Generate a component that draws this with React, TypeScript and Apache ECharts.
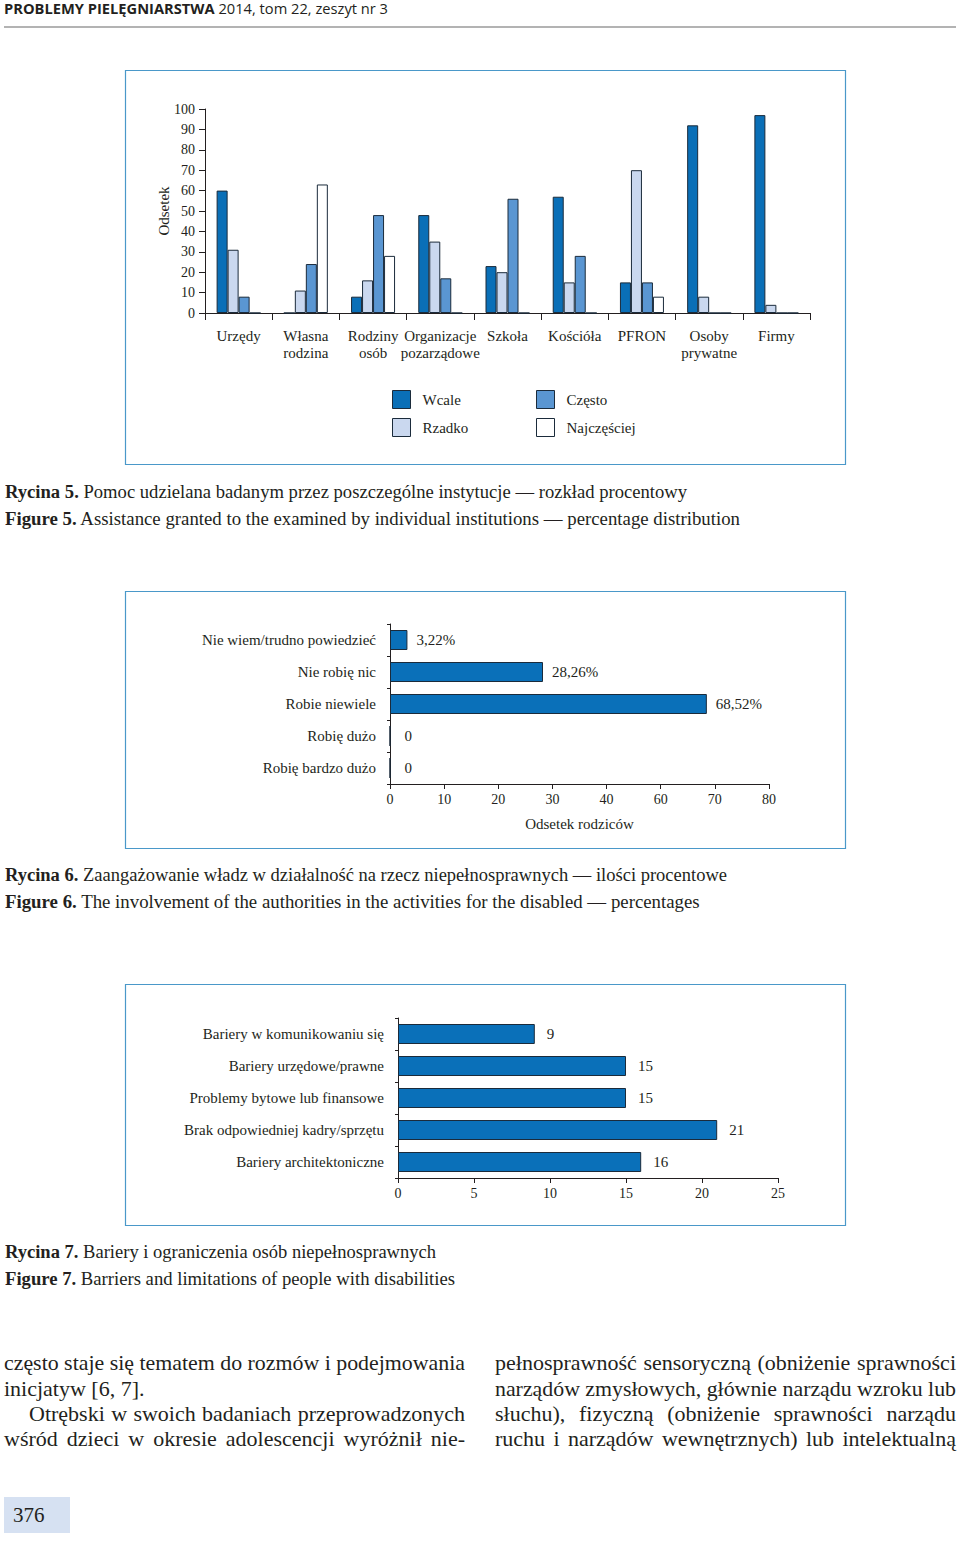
import React, { useEffect, useRef } from "react";
import * as echarts from "echarts";

// ---------- Chart 1 data (Rycina 5) ----------
const institutions = [
  "Urzędy",
  "Własna\nrodzina",
  "Rodziny\nosób",
  "Organizacje\npozarządowe",
  "Szkoła",
  "Kościóła",
  "PFRON",
  "Osoby\nprywatne",
  "Firmy",
];
const wcale = [60, 0, 8, 48, 23, 57, 15, 92, 97];
const rzadko = [31, 11, 16, 35, 20, 15, 70, 8, 4];
const czesto = [8, 24, 48, 17, 56, 28, 15, 0, 0];
const najczesciej = [0, 63, 28, 0, 0, 0, 8, 0, 0];
const seriesNames1 = ["Wcale", "Rzadko", "Często", "Najczęściej"];
const seriesColors1 = ["#0a6fb7", "#cad8ef", "#5a96d2", "#ffffff"];

// ---------- Chart 2 data (Rycina 6) ----------
const engagementCats = [
  "Nie wiem/trudno powiedzieć",
  "Nie robię nic",
  "Robie niewiele",
  "Robię dużo",
  "Robię bardzo dużo",
];
const engagementValues = [3.22, 28.26, 68.52, 0, 0];
// tick labels as printed in the original figure (note: "50" is absent)
const engagementTicks = [0, 10, 20, 30, 40, 60, 70, 80];

// ---------- Chart 3 data (Rycina 7) ----------
const barrierCats = [
  "Bariery w komunikowaniu się",
  "Bariery urzędowe/prawne",
  "Problemy bytowe lub finansowe",
  "Brak odpowiedniej kadry/sprzętu",
  "Bariery architektoniczne",
];
const barrierValues = [9, 15, 15, 21, 16];

const INK = "#231f20";
const BORDER = "#1b2b3b";
const BOX = "#4a98c9";
const SERIF_NAME = "Liberation Serif";
const SERIF = "'Liberation Serif', 'Times New Roman', serif";
const SANS = "'Open Sans', 'DejaVu Sans', sans-serif";

// piecewise-linear mapping of a value onto the printed tick scale
function toTickScale(v: number, ticks: number[]): number {
  for (let i = 0; i < ticks.length - 1; i++) {
    if (v <= ticks[i + 1]) return i + (v - ticks[i]) / (ticks[i + 1] - ticks[i]);
  }
  return ticks.length - 1;
}

function fmtPct(v: number): string {
  if (v === 0) return "0";
  return v.toFixed(2).replace(".", ",") + "%";
}

let measureCtx: CanvasRenderingContext2D | null = null;
function textWidth(text: string, font: string): number {
  if (!measureCtx) {
    const c = document.createElement("canvas");
    measureCtx = c.getContext("2d");
  }
  if (!measureCtx) return text.length * 8;
  measureCtx.font = font;
  return measureCtx.measureText(text).width;
}

function Caption(props: {
  x: number;
  y: number;
  width: number;
  size: number;
  bold: string;
  text: string;
  family?: string;
  familyName?: string;
}) {
  const fam = props.family || SERIF;
  const famName = props.familyName || SERIF_NAME;
  const w =
    textWidth(props.bold, `bold ${props.size}px "${famName}"`) +
    textWidth(props.text, `${props.size}px "${famName}"`);
  const scale = w > 0 ? props.width / w : 1;
  return (
    <div
      style={{
        position: "absolute",
        left: props.x,
        top: props.y - props.size * 0.6,
        fontSize: props.size,
        lineHeight: props.size * 1.2 + "px",
        fontFamily: fam,
        whiteSpace: "nowrap",
        color: INK,
        transform: `scaleX(${scale})`,
        transformOrigin: "left center",
      }}
    >
      <b>{props.bold}</b>
      {props.text}
    </div>
  );
}

function JustLine(props: {
  x: number;
  y: number;
  width: number;
  text: string;
  justify?: boolean;
  indent?: number;
}) {
  const size = 22;
  const indent = props.indent || 0;
  const avail = props.width - indent;
  const natural = textWidth(props.text, `${size}px "${SERIF_NAME}"`);
  const spaces = (props.text.match(/ /g) || []).length;
  let scale = 1;
  let ws = 0;
  if (natural > avail) {
    scale = avail / natural;
  } else if (props.justify !== false && spaces > 0) {
    ws = (avail - natural) / spaces;
  }
  return (
    <div
      style={{
        position: "absolute",
        left: props.x + indent,
        top: props.y - 14,
        fontSize: size,
        lineHeight: "28px",
        fontFamily: SERIF,
        color: INK,
        whiteSpace: "nowrap",
        wordSpacing: ws + "px",
        transform: `scaleX(${scale})`,
        transformOrigin: "left center",
      }}
    >
      {props.text}
    </div>
  );
}

export default function App() {
  const chartRef = useRef<HTMLDivElement>(null);

  useEffect(() => {
    if (!chartRef.current) return;
    const chart = echarts.init(chartRef.current, undefined, { renderer: "svg" });
    const data1 = [wcale, rzadko, czesto, najczesciej];

    const axisLine = { show: true, lineStyle: { color: INK, width: 1 } };
    const num14 = { color: INK, fontSize: 14, fontFamily: SERIF };
    const txt15 = { color: INK, fontSize: 15, fontFamily: SERIF };

    const option: any = {
      animation: false,
      textStyle: { fontFamily: SERIF },
      grid: [
        { left: 205, top: 109, width: 605, height: 204, containLabel: false },
        { left: 390, top: 624, width: 379, height: 160, containLabel: false },
        { left: 398, top: 1018, width: 380, height: 160, containLabel: false },
      ],
      xAxis: [
        {
          type: "category",
          gridIndex: 0,
          data: institutions,
          axisLine,
          axisTick: { show: true, length: 7, lineStyle: { color: INK } },
          axisLabel: { ...txt15, margin: 14, lineHeight: 17, interval: 0 },
          splitLine: { show: false },
        },
        {
          type: "value",
          gridIndex: 1,
          min: 0,
          max: engagementTicks.length - 1,
          interval: 1,
          axisLine,
          axisTick: { show: true, length: 5, lineStyle: { color: INK } },
          axisLabel: {
            ...num14,
            margin: 8,
            formatter: (v: number) => String(engagementTicks[Math.round(v)]),
          },
          splitLine: { show: false },
          name: "Odsetek rodziców",
          nameLocation: "middle",
          nameGap: 32,
          nameMoveOverlap: false,
          nameTextStyle: { ...txt15 },
        },
        {
          type: "value",
          gridIndex: 2,
          min: 0,
          max: 25,
          interval: 5,
          axisLine,
          axisTick: { show: true, length: 5, lineStyle: { color: INK } },
          axisLabel: { ...num14, margin: 8 },
          splitLine: { show: false },
        },
      ],
      yAxis: [
        {
          type: "value",
          gridIndex: 0,
          min: 0,
          max: 100,
          interval: 10,
          axisLine,
          axisTick: { show: true, length: 6, lineStyle: { color: INK } },
          axisLabel: { ...num14, margin: 10 },
          splitLine: { show: false },
          name: "Odsetek",
          nameLocation: "middle",
          nameRotate: 90,
          nameGap: 34,
          nameMoveOverlap: false,
          nameTextStyle: { ...txt15 },
        },
        {
          type: "category",
          gridIndex: 1,
          inverse: true,
          data: engagementCats,
          axisLine,
          axisTick: { show: true, length: 3, lineStyle: { color: INK } },
          axisLabel: { ...txt15, margin: 14, interval: 0 },
        },
        {
          type: "category",
          gridIndex: 2,
          inverse: true,
          data: barrierCats,
          axisLine,
          axisTick: { show: true, length: 3, lineStyle: { color: INK } },
          axisLabel: { ...txt15, margin: 14, interval: 0 },
        },
      ],
      legend: [
        {
          data: [seriesNames1[0], seriesNames1[1]],
          left: 392,
          top: 390,
          padding: 0,
          orient: "vertical",
          itemWidth: 18,
          itemHeight: 18,
          itemGap: 9,
          icon: "rect",
          itemStyle: { borderColor: BORDER, borderWidth: 1 },
          textStyle: { ...txt15, padding: [0, 0, 0, 7] },
          selectedMode: false,
        },
        {
          data: [seriesNames1[2], seriesNames1[3]],
          left: 536,
          top: 390,
          padding: 0,
          orient: "vertical",
          itemWidth: 18,
          itemHeight: 18,
          itemGap: 9,
          icon: "rect",
          itemStyle: { borderColor: BORDER, borderWidth: 1 },
          textStyle: { ...txt15, padding: [0, 0, 0, 7] },
          selectedMode: false,
        },
      ],
      series: [
        ...seriesNames1.map((name, i) => ({
          type: "bar",
          name,
          xAxisIndex: 0,
          yAxisIndex: 0,
          data: data1[i],
          barWidth: 11,
          barGap: "0%",
          itemStyle: { color: seriesColors1[i], borderColor: BORDER, borderWidth: 1 },
        })),
        {
          type: "bar",
          name: "Zaangażowanie",
          xAxisIndex: 1,
          yAxisIndex: 1,
          data: engagementValues.map((v) => ({
            value: toTickScale(v, engagementTicks),
            raw: v,
            label: { distance: v === 0 ? 14 : 9 },
          })),
          barWidth: 20,
          itemStyle: { color: "#0a70b9", borderColor: BORDER, borderWidth: 1 },
          label: {
            show: true,
            position: "right",
            ...txt15,
            formatter: (p: any) => fmtPct(p.data.raw),
          },
        },
        {
          type: "bar",
          name: "Bariery",
          xAxisIndex: 2,
          yAxisIndex: 2,
          data: barrierValues,
          barWidth: 20,
          itemStyle: { color: "#0a70b9", borderColor: BORDER, borderWidth: 1 },
          label: {
            show: true,
            position: "right",
            distance: 12,
            ...txt15,
          },
        },
      ],
      graphic: [
        { type: "line", shape: { x1: 4, y1: 27, x2: 956, y2: 27 }, style: { stroke: "#9a9a9a", lineWidth: 1.5 } },
        { type: "rect", shape: { x: 125.5, y: 70.5, width: 720, height: 394 }, style: { fill: "none", stroke: BOX, lineWidth: 1.2 } },
        { type: "rect", shape: { x: 125.5, y: 591.5, width: 720, height: 257 }, style: { fill: "none", stroke: BOX, lineWidth: 1.2 } },
        { type: "rect", shape: { x: 125.5, y: 984.5, width: 720, height: 241 }, style: { fill: "none", stroke: BOX, lineWidth: 1.2 } },
        { type: "rect", shape: { x: 4, y: 1497, width: 66, height: 36 }, style: { fill: "#d6e1f2" } },
      ],
    };
    chart.setOption(option);
    return () => chart.dispose();
  }, []);

  return (
    <div style={{ position: "absolute", left: 0, top: 0, width: 960, height: 1541, background: "#fff", overflow: "hidden" }}>
      <div ref={chartRef} style={{ position: "absolute", left: 0, top: 0, width: 960, height: 1541 }} />

      <Caption
        x={4}
        y={9}
        width={384}
        size={14}
        family={SANS}
        familyName="Open Sans"
        bold="PROBLEMY PIELĘGNIARSTWA"
        text=" 2014, tom 22, zeszyt nr 3"
      />

      <Caption x={5} y={493} width={682} size={18} bold="Rycina 5." text=" Pomoc udzielana badanym przez poszczególne instytucje — rozkład procentowy" />
      <Caption x={5} y={520} width={736} size={18} bold="Figure 5." text=" Assistance granted to the examined by individual institutions — percentage distribution" />
      <Caption x={5} y={876} width={722} size={18} bold="Rycina 6." text=" Zaangażowanie władz w działalność na rzecz niepełnosprawnych — ilości procentowe" />
      <Caption x={5} y={903} width={695} size={18} bold="Figure 6." text=" The involvement of the authorities in the activities for the disabled — percentages" />
      <Caption x={5} y={1253} width={431} size={18} bold="Rycina 7." text=" Bariery i ograniczenia osób niepełnosprawnych" />
      <Caption x={5} y={1280} width={450} size={18} bold="Figure 7." text=" Barriers and limitations of people with disabilities" />

      <JustLine x={4} y={1363} width={461} text="często staje się tematem do rozmów i podejmowania" />
      <JustLine x={4} y={1389} width={461} text="inicjatyw [6, 7]." justify={false} />
      <JustLine x={4} y={1414} width={461} indent={25} text="Otrębski w swoich badaniach przeprowadzonych" />
      <JustLine x={4} y={1439} width={461} text="wśród dzieci w okresie adolescencji wyróżnił nie-" />

      <JustLine x={495} y={1363} width={461} text="pełnosprawność sensoryczną (obniżenie sprawności" />
      <JustLine x={495} y={1389} width={461} text="narządów zmysłowych, głównie narządu wzroku lub" />
      <JustLine x={495} y={1414} width={461} text="słuchu), fizyczną (obniżenie sprawności narządu" />
      <JustLine x={495} y={1439} width={461} text="ruchu i narządów wewnętrznych) lub intelektualną" />

      <div
        style={{
          position: "absolute",
          left: 13,
          top: 1502,
          fontSize: 21,
          lineHeight: "26px",
          fontFamily: SERIF,
          color: INK,
        }}
      >
        376
      </div>
    </div>
  );
}
